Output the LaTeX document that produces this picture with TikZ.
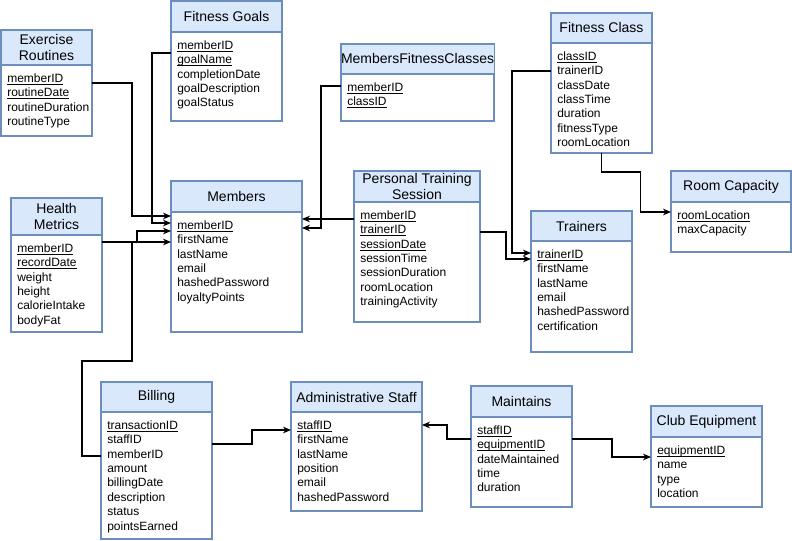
\documentclass[tikz,border=0pt]{standalone}
\usepackage{fontspec}
\setmainfont{Liberation Sans}
\usepackage{tikz}
\usetikzlibrary{positioning,arrows.meta,calc}
\usepackage{xcolor}
\definecolor{tblblue}{HTML}{6C8EBF}
\definecolor{tblfill}{HTML}{DAE8FC}
\newcommand{\keyfield}[1]{\underline{\smash{#1}}}
% one table: name, x, y, width, header height, body height, title, fields
\newcommand{\erbox}[8]{%
  \node[tblhead, minimum width={#4*0.75pt}, minimum height={#5*0.75pt}] (#1) at (#2,#3) {#7};
  \node[tblbody, minimum width={#4*0.75pt}, minimum height={#6*0.75pt}] (#1-b) at (#1.south west) {};
  \node[tblfields] (#1-f) at ($(#1-b.north west)+(6,7)$) {\strut #8};
}

\begin{document}
\begin{tikzpicture}[x=0.75pt, y=-0.75pt,
  tblhead/.style={draw=tblblue, fill=tblfill, line width=1.1pt, anchor=north west,
    inner sep=0pt, outer sep=0pt, align=center, font=\fontsize{10.5}{12.6}\selectfont},
  tblbody/.style={draw=tblblue, fill=white, line width=1.1pt, anchor=north west,
    inner sep=0pt, outer sep=0pt},
  tblfields/.style={anchor=north west, inner sep=0pt, align=left,
    font=\fontsize{9}{10.8}\selectfont},
  >={Stealth[length=6pt,width=5pt]}, link/.style={->, line width=0.8pt}
]
  \useasboundingbox (0,0) rectangle (792,541);

  \erbox{er}{1}{30}{91}{35}{71}{Exercise\\Routines}
    {\keyfield{memberID}\\\keyfield{routineDate}\\routineDuration\\routineType}
  \erbox{fg}{171}{1}{111}{31}{89}{Fitness Goals}
    {\keyfield{memberID}\\\keyfield{goalName}\\completionDate\\goalDescription\\goalStatus}
  \erbox{mfc}{341}{44}{153}{30}{47}{MembersFitnessClasses}
    {\keyfield{memberID}\\\keyfield{classID}}
  \erbox{fc}{551}{13}{101}{30}{110}{Fitness Class}
    {\keyfield{classID}\\trainerID\\classDate\\classTime\\duration\\fitnessType\\roomLocation}
  \erbox{rc}{671}{171}{120}{31}{50}{Room Capacity}
    {\keyfield{roomLocation}\\maxCapacity}
  \erbox{hm}{11}{198}{91}{37}{97}{Health\\Metrics}
    {\keyfield{memberID}\\\keyfield{recordDate}\\weight\\height\\calorieIntake\\bodyFat}
  \erbox{mem}{171}{181}{131}{31}{120}{Members}
    {\keyfield{memberID}\\firstName\\lastName\\email\\hashedPassword\\loyaltyPoints}
  \erbox{pts}{354}{171}{126}{31}{120}{Personal Training\\Session}
    {\keyfield{memberID}\\\keyfield{trainerID}\\\keyfield{sessionDate}\\sessionTime\\sessionDuration\\roomLocation\\trainingActivity}
  \erbox{tr}{531}{211}{101}{30}{111}{Trainers}
    {\keyfield{trainerID}\\firstName\\lastName\\email\\hashedPassword\\certification}
  \erbox{bil}{101}{382}{111}{30}{127}{Billing}
    {\keyfield{transactionID}\\staffID\\memberID\\amount\\billingDate\\description\\status\\pointsEarned}
  \erbox{as}{291}{382}{131}{30}{99}{Administrative Staff}
    {\keyfield{staffID}\\firstName\\lastName\\position\\email\\hashedPassword}
  \erbox{mt}{471}{386}{101}{31}{90}{Maintains}
    {\keyfield{staffID}\\\keyfield{equipmentID}\\dateMaintained\\time\\duration}
  \erbox{ce}{651}{406}{111}{31}{70}{Club Equipment}
    {\keyfield{equipmentID}\\name\\type\\location}

  % links into Members
  \draw[link] ($(er.north east)+(0,53)$) -- ++(40,0) |- ($(mem.north west)+(0,35)$);
  \draw[link] ($(fg.north west)+(0,52)$) -- ++(-19,0) |- ($(mem.north west)+(0,42)$);
  \draw[link] ($(bil.north west)+(0,74)$) -- ++(-19,0) -- ++(0,-95) -- ++(50,0)
    -- ++(0,-119) -- ++(5,0) |- ($(mem.north west)+(0,50)$);
  \draw[link] ($(hm.north east)+(0,44)$) -- ($(mem.north west)+(0,61)$);
  \draw[link] ($(pts.north west)+(0,48)$) -- ($(mem.north east)+(0,38)$);
  \draw[link] ($(mfc.north west)+(0,42)$) -- ++(-20,0) |- ($(mem.north east)+(0,47)$);

  % links into Trainers and Room Capacity
  \draw[link] ($(fc.north west)+(0,58)$) -- ++(-39,0) |- ($(tr.north west)+(0,42)$);
  \draw[link] ($(pts.north east)+(0,61)$) -- ++(26,0) |- ($(tr.north west)+(0,48)$);
  \draw[link] (fc-b.south) |- ++(39,19) |- ($(rc.north west)+(0,41)$);

  % staff and equipment
  \draw[link] ($(bil.north east)+(0,62)$) -- ++(40,0) |- ($(as.north west)+(0,48)$);
  \draw[link] ($(mt.north west)+(0,53)$) -- ++(-24,0) |- ($(as.north east)+(0,43)$);
  \draw[link] ($(mt.north east)+(0,53)$) -- ++(40,0) |- ($(ce.north west)+(0,51)$);
\end{tikzpicture}
\end{document}
